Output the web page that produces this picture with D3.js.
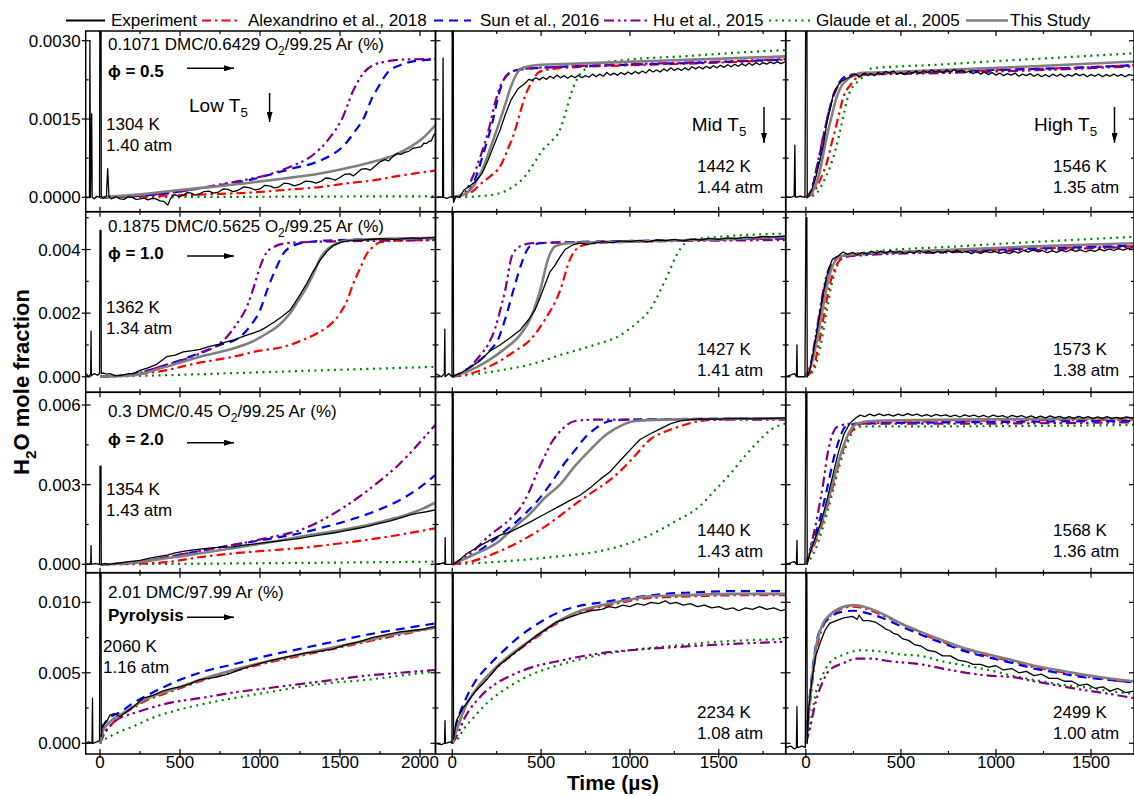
<!DOCTYPE html>
<html><head><meta charset="utf-8">
<script src="https://cdn.jsdelivr.net/npm/d3@7"></script>
<style>body{margin:0;background:#fff}svg{display:block}text{font-family:"Liberation Sans",Arial,sans-serif;fill:#000}</style>
</head><body><svg id="c" width="1134" height="796"></svg>
<script>
// ---------------- DATA ----------------
const seriesKeys = ["exp","alex","sun","hu","glaude","study"];
const seriesNames = ["Experiment","Alexandrino et al., 2018","Sun et al., 2016","Hu et al., 2015","Glaude et al., 2005","This Study"];
const mixtures = ["0.1071 DMC/0.6429 O|2|/99.25 Ar (%)","0.1875 DMC/0.5625 O|2|/99.25 Ar (%)","0.3 DMC/0.45 O|2|/99.25 Ar (%)","2.01 DMC/97.99 Ar (%)"];
const caseLabels = ["ϕ = 0.5","ϕ = 1.0","ϕ = 2.0","Pyrolysis"];
const tempLabels = [["1304 K","1442 K","1546 K"],["1362 K","1427 K","1573 K"],["1354 K","1440 K","1568 K"],["2060 K","2234 K","2499 K"]];
const presLabels = [["1.40 atm","1.44 atm","1.35 atm"],["1.34 atm","1.41 atm","1.38 atm"],["1.43 atm","1.43 atm","1.36 atm"],["1.16 atm","1.08 atm","1.00 atm"]];
const regimeLabels = ["Low T|5|","Mid T|5|","High T|5|"];
const xTicks = [0,500,1000,1500,2000];
const xMinorTicks = [250,750,1250,1750];
const yTicks = [[0,0.0015,0.003],[0,0.002,0.004],[0,0.003,0.006],[0,0.005,0.010]];
const yMinorTicks = [[0.00075,0.00225],[0.001,0.003,0.005],[0.0015,0.0045],[0.0025,0.0075]];
const yTickDecimals = [4,3,3,3];

// ---- Row 1 (phi = 0.5) ----
const exp_r1c1 = [[-89,0.00001],[-75,-0.00001],[-66,0.00001],[-63,0.0030],[-60,0.0],[-52,0.0016],[-49,0.0],[-35,-0.00003],[-20,0.00002],[-3,0.0],[0,0.0045],[6,0.0045],[8,0.00001],[20,-0.00002],[40,0.00002],[48,0.00055],[56,0.00002],[70,-0.00003],[100,0.00001],[125,-0.00003],[150,-0.00004],[175,0.00001],[200,0.0],[225,-0.00004],[250,-0.00003],[275,-0.00001],[300,-0.00005],[325,-0.00002],[350,-0.00003],[375,-0.00007],[400,-0.00008],[424,-0.00015],[440,-0.00003],[455,0.00003],[470,0.00005],[495,0.00001],[520,0.00004],[545,0.00009],[570,0.00008],[595,0.00004],[620,0.00006],[650,0.00011],[680,0.00012],[710,0.00008],[740,0.0001],[770,0.00016],[800,0.00015],[830,0.00011],[860,0.00013],[900,0.0002],[937,0.00018],[970,0.00014],[1000,0.00016],[1030,0.00023],[1060,0.00022],[1090,0.00018],[1120,0.0002],[1150,0.00027],[1180,0.00026],[1215,0.00022],[1250,0.00025],[1285,0.00031],[1320,0.0003],[1350,0.00027],[1384,0.00031],[1410,0.00037],[1440,0.00036],[1470,0.00033],[1500,0.00038],[1530,0.00044],[1560,0.00045],[1585,0.00041],[1607,0.00047],[1635,0.00054],[1660,0.00055],[1690,0.00052],[1720,0.0006],[1750,0.00068],[1780,0.00072],[1805,0.0007],[1830,0.00078],[1855,0.00084],[1880,0.00082],[1905,0.00086],[1930,0.00088],[1955,0.00094],[1980,0.00095],[2008,0.00097],[2025,0.00104],[2040,0.00103],[2055,0.00107],[2070,0.00108],[2087,0.0012],[2095,0.00122]];
const alex_r1c1 = [[0,0],[300,0.00002],[500,0.00004],[700,0.00006],[937,0.00009],[1150,0.00014],[1384,0.0002],[1550,0.00027],[1719,0.00033],[1830,0.00039],[1950,0.00045],[2095,0.00051]];
const sun_r1c1 = [[0,0],[200,0.00002],[400,0.00007],[600,0.00016],[760,0.00024],[900,0.00031],[1094,0.00046],[1200,0.00055],[1339,0.00066],[1440,0.0008],[1518,0.00097],[1590,0.00125],[1652,0.00154],[1700,0.0019],[1741,0.00212],[1800,0.0024],[1875,0.00253],[1950,0.0026],[2095,0.00264]];
const hu_r1c1 = [[0,0],[200,0.00002],[400,0.00007],[600,0.00016],[760,0.00025],[900,0.00033],[1070,0.00045],[1200,0.0006],[1317,0.00078],[1420,0.00108],[1518,0.00154],[1585,0.00206],[1652,0.0024],[1720,0.00255],[1786,0.0026],[1900,0.00264],[2095,0.00265]];
const glaude_r1c1 = [[0,0],[500,0.000005],[1000,0.00001],[1500,0.000015],[2095,0.00002]];
const study_r1c1 = [[0,0],[268,0.00006],[500,0.00014],[700,0.0002],[937,0.00028],[1150,0.00036],[1384,0.00046],[1560,0.00057],[1741,0.00071],[1850,0.00082],[1942,0.00097],[2020,0.00114],[2095,0.00138]];

const exp_r1c2 = [[-95,0.0],[-70,0.00001],[-55,0.0],[-52,0.00267],[-49,0.0],[-30,-0.00002],[-10,0.00001],[-2,0.0],[0,0.0045],[5,0.0045],[7,-0.0001],[20,0.00002],[40,0.0],[66,0.00014],[100,0.00022],[130,0.0003],[168,0.00046],[200,0.0007],[235,0.001],[269,0.00129],[300,0.0016],[330,0.00186],[370,0.00208],[409,0.00218],[430,0.00226],[450,0.00224],[470,0.00229],[490,0.00225],[510,0.0023],[530,0.00226],[550,0.00232],[570,0.00228],[589,0.00234],[610,0.00229],[630,0.00233],[650,0.00228],[670,0.00233],[690,0.00229],[710,0.00234],[730,0.00229],[750,0.00233],[770,0.0023],[790,0.00236],[810,0.00231],[830,0.00236],[850,0.00232],[870,0.00239],[890,0.00234],[910,0.00238],[930,0.00234],[950,0.00239],[970,0.00235],[990,0.0024],[1010,0.00236],[1030,0.00241],[1050,0.00237],[1070,0.00242],[1090,0.00238],[1110,0.00245],[1130,0.0024],[1150,0.00244],[1170,0.0024],[1190,0.00246],[1210,0.00242],[1230,0.00248],[1250,0.00243],[1270,0.00247],[1290,0.00243],[1310,0.00248],[1330,0.00244],[1350,0.0025],[1370,0.00246],[1390,0.0025],[1410,0.00246],[1430,0.00251],[1450,0.00247],[1470,0.00252],[1490,0.00248],[1510,0.00253],[1530,0.00249],[1550,0.00254],[1570,0.0025],[1590,0.00255],[1610,0.00251],[1630,0.00256],[1650,0.00252],[1670,0.00257],[1690,0.00253],[1710,0.00258],[1730,0.00254],[1750,0.00258],[1770,0.00255],[1790,0.00259],[1810,0.00256],[1830,0.0026],[1850,0.00256],[1877,0.0026]];
const alex_r1c2 = [[0,0],[100,0.00008],[168,0.00028],[220,0.00042],[269,0.00059],[310,0.0009],[348,0.00123],[380,0.0016],[409,0.00193],[450,0.00222],[488,0.0024],[590,0.00247],[1000,0.00253],[1500,0.00258],[1877,0.00264]];
const sun_r1c2 = [[0,0],[70,0.00005],[126,0.00033],[180,0.0009],[229,0.00148],[260,0.00195],[289,0.00225],[330,0.0024],[370,0.00244],[500,0.00248],[1000,0.00254],[1500,0.00259],[1877,0.00264]];
const hu_r1c2 = [[0,0],[60,0.00005],[107,0.00033],[160,0.0008],[209,0.00135],[240,0.0018],[269,0.00212],[300,0.0023],[330,0.0024],[430,0.00247],[600,0.0025],[1000,0.00255],[1500,0.0026],[1877,0.00265]];
const glaude_r1c2 = [[0,0],[150,0.00002],[269,0.00008],[340,0.0002],[409,0.0004],[460,0.00065],[510,0.00091],[560,0.00108],[606,0.00129],[640,0.00165],[669,0.00199],[700,0.00225],[730,0.0024],[812,0.00255],[1000,0.00264],[1300,0.0027],[1600,0.00277],[1877,0.00282]];
const study_r1c2 = [[0,0],[80,0.00008],[168,0.00052],[220,0.001],[269,0.00148],[300,0.0018],[330,0.00212],[360,0.00235],[388,0.00247],[470,0.00253],[700,0.00256],[1200,0.00262],[1877,0.0027]];

const exp_r1c3 = [[-106,0.00001],[-80,0.0],[-62,0.00002],[-58,0.001],[-55,0.0],[-30,0.00002],[-5,0.0],[0,0.0045],[5,0.0045],[7,0.0],[15,0.00003],[30,0.00014],[50,0.00035],[74,0.00071],[92,0.001],[110,0.00142],[128,0.0017],[145,0.00199],[165,0.00212],[181,0.00221],[205,0.00226],[234,0.00231],[249,0.00234],[265,0.00236],[280,0.0023],[295,0.00235],[310,0.00238],[325,0.00233],[340,0.00237],[360,0.00233],[380,0.00239],[400,0.00236],[420,0.00241],[441,0.00238],[460,0.00242],[480,0.00236],[500,0.00239],[520,0.00235],[540,0.00241],[560,0.00238],[580,0.00242],[600,0.00237],[620,0.00243],[640,0.00239],[660,0.00244],[680,0.0024],[700,0.00243],[720,0.00238],[740,0.00244],[760,0.0024],[780,0.00245],[800,0.00241],[820,0.00244],[840,0.00239],[860,0.00242],[880,0.00237],[900,0.00241],[920,0.00236],[940,0.0024],[960,0.00235],[980,0.00239],[1000,0.00234],[1020,0.00238],[1040,0.00233],[1060,0.00237],[1080,0.00234],[1100,0.00238],[1120,0.00232],[1140,0.00236],[1160,0.00233],[1180,0.00237],[1200,0.00232],[1220,0.00236],[1240,0.00231],[1260,0.00235],[1280,0.00231],[1300,0.00236],[1320,0.00232],[1340,0.00236],[1360,0.00231],[1380,0.00235],[1400,0.00232],[1420,0.00237],[1440,0.00233],[1460,0.00236],[1480,0.00231],[1500,0.00235],[1520,0.00232],[1540,0.00236],[1560,0.00231],[1580,0.00235],[1600,0.00232],[1620,0.00236],[1640,0.00232],[1660,0.00235],[1680,0.00231],[1700,0.00235],[1726,0.00233]];
const alex_r1c3 = [[0,0],[30,0.00006],[57,0.0002],[85,0.00042],[110,0.00066],[133,0.001],[154,0.00129],[176,0.00162],[198,0.00193],[234,0.00215],[270,0.0023],[320,0.00236],[600,0.00239],[1000,0.00244],[1400,0.00248],[1726,0.00253]];
const sun_r1c3 = [[0,0],[25,0.0001],[60,0.0006],[92,0.00116],[125,0.0017],[150,0.002],[180,0.00222],[220,0.00234],[300,0.00237],[600,0.0024],[1000,0.00244],[1400,0.00248],[1726,0.00253]];
const hu_r1c3 = [[0,0],[25,0.0001],[60,0.00062],[92,0.00118],[125,0.0017],[150,0.00198],[180,0.0022],[220,0.00232],[300,0.00235],[600,0.00237],[1000,0.00241],[1400,0.00246],[1726,0.00251]];
const glaude_r1c3 = [[0,0],[30,0.00002],[57,0.00008],[90,0.00028],[128,0.00059],[155,0.0009],[181,0.00129],[200,0.0016],[216,0.00186],[240,0.00208],[261,0.00218],[287,0.00226],[346,0.00247],[450,0.0025],[638,0.00253],[1000,0.00261],[1400,0.00269],[1726,0.00276]];
const study_r1c3 = [[0,0],[30,0.00008],[70,0.00045],[110,0.00116],[140,0.00162],[163,0.00193],[190,0.00215],[216,0.00225],[250,0.00233],[287,0.00238],[441,0.0024],[800,0.00245],[1200,0.00251],[1726,0.0026]];

// ---- Row 2 (phi = 1.0) ----
const exp_r2c1 = [[-89,0.0001],[-70,0.0],[-58,0.0001],[-56,0.00143],[-54,0.00003],[-35,0.0001],[-15,0.00005],[-3,0.0001],[0,0.0046],[6,0.0046],[8,0.0001],[20,0.00012],[40,0.00008],[62,0.0001],[100,0.00003],[140,0.00005],[180,0.0001],[208,0.0001],[250,0.0002],[300,0.00028],[350,0.00038],[417,0.00063],[470,0.00068],[520,0.00078],[580,0.00082],[625,0.00086],[680,0.00095],[740,0.00102],[790,0.0011],[833,0.00115],[900,0.00128],[960,0.00138],[1000,0.00145],[1042,0.00157],[1090,0.00172],[1140,0.0019],[1187,0.00209],[1240,0.0025],[1292,0.00293],[1330,0.0033],[1375,0.00366],[1420,0.00395],[1458,0.00413],[1510,0.00423],[1562,0.00428],[1650,0.0043],[1750,0.00434],[1850,0.00432],[1950,0.00437],[2000,0.00435],[2095,0.00438]];
const alex_r2c1 = [[0,0],[200,0.00006],[417,0.00021],[600,0.00042],[833,0.00063],[1000,0.00082],[1146,0.00094],[1250,0.00112],[1354,0.00136],[1430,0.0016],[1500,0.00199],[1545,0.0024],[1583,0.00293],[1625,0.0034],[1667,0.00386],[1710,0.0041],[1750,0.00423],[1850,0.00428],[2095,0.0043]];
const sun_r2c1 = [[0,0],[200,0.00008],[400,0.00035],[625,0.00075],[750,0.001],[875,0.00125],[940,0.0016],[1000,0.00209],[1050,0.0028],[1104,0.00345],[1150,0.0039],[1187,0.00407],[1292,0.00423],[1500,0.0043],[2095,0.00435]];
const hu_r2c1 = [[0,0],[200,0.00008],[400,0.00035],[625,0.00073],[720,0.00095],[792,0.00125],[860,0.0017],[917,0.00219],[960,0.0028],[1000,0.00345],[1040,0.0039],[1083,0.00407],[1167,0.0042],[1400,0.00425],[1800,0.00428],[2095,0.0043]];
const glaude_r2c1 = [[0,0],[500,0.00006],[1000,0.00014],[1500,0.00022],[2095,0.00031]];
const study_r2c1 = [[0,0],[100,0.00002],[208,0.00005],[400,0.0003],[625,0.00063],[833,0.00089],[950,0.0011],[1042,0.00136],[1120,0.00163],[1187,0.00199],[1240,0.0024],[1292,0.00282],[1340,0.0033],[1375,0.00371],[1420,0.004],[1458,0.00413],[1562,0.0043],[1800,0.00434],[2095,0.00437]];

const exp_r2c2 = [[-95,0.0001],[-60,0.0],[-45,0.0001],[-42,0.0015],[-40,0.0],[-20,0.0001],[-2,0.0],[0,0.0055],[5,0.0055],[7,0.0],[20,0.00005],[43,0.0001],[100,0.0003],[156,0.0005],[210,0.0008],[269,0.001],[320,0.0012],[381,0.00146],[430,0.0018],[466,0.0021],[495,0.0025],[522,0.0029],[550,0.0033],[578,0.0035],[610,0.0038],[635,0.004],[680,0.00415],[719,0.0042],[760,0.00416],[800,0.0042],[850,0.00425],[900,0.00422],[950,0.00427],[1000,0.00425],[1050,0.00429],[1100,0.00424],[1150,0.0043],[1200,0.00428],[1250,0.00432],[1300,0.00427],[1350,0.00433],[1400,0.0043],[1450,0.00435],[1500,0.00432],[1550,0.00437],[1600,0.00434],[1650,0.00439],[1700,0.00437],[1750,0.00441],[1800,0.0044],[1877,0.00442]];
const alex_r2c2 = [[0,0],[100,0.0001],[269,0.0005],[350,0.0008],[437,0.00115],[522,0.0018],[606,0.0027],[663,0.0037],[719,0.0041],[800,0.0042],[1200,0.00427],[1877,0.00435]];
const sun_r2c2 = [[0,0],[100,0.0003],[212,0.00083],[260,0.0012],[297,0.0018],[353,0.0029],[392,0.0036],[437,0.0041],[500,0.0042],[1000,0.00427],[1877,0.00435]];
const hu_r2c2 = [[0,0],[80,0.0002],[156,0.00067],[200,0.001],[240,0.0015],[270,0.0021],[297,0.0027],[336,0.0038],[381,0.0041],[450,0.0042],[1000,0.00425],[1877,0.0043]];
const glaude_r2c2 = [[0,0],[150,0.0001],[269,0.0002],[450,0.0004],[606,0.00068],[800,0.001],[944,0.0013],[1040,0.0017],[1112,0.0021],[1196,0.003],[1281,0.004],[1337,0.0043],[1500,0.0044],[1877,0.0045]];
const study_r2c2 = [[0,0],[100,0.0002],[200,0.0005],[300,0.0009],[380,0.0013],[437,0.0018],[494,0.0027],[539,0.0037],[578,0.0041],[650,0.0042],[1000,0.00425],[1500,0.00432],[1877,0.0044]];

const exp_r2c3 = [[-106,0.0],[-60,0.0001],[-50,0.0],[-47,0.001],[-45,0.0],[-5,0.0],[0,0.005],[5,0.005],[7,0.0],[20,0.0002],[40,0.0008],[60,0.0015],[80,0.0022],[100,0.0029],[120,0.0034],[140,0.0037],[170,0.0038],[195,0.00392],[220,0.00385],[245,0.00391],[270,0.00384],[295,0.0039],[320,0.00386],[345,0.00394],[370,0.00388],[395,0.00395],[420,0.00389],[445,0.00396],[470,0.0039],[495,0.00394],[520,0.00387],[545,0.00393],[570,0.00389],[595,0.00397],[620,0.0039],[645,0.00395],[670,0.00388],[695,0.00394],[720,0.00389],[745,0.00396],[770,0.00391],[795,0.00398],[820,0.0039],[845,0.00395],[870,0.00387],[895,0.00393],[920,0.00388],[945,0.00396],[970,0.0039],[995,0.00394],[1020,0.00388],[1045,0.00392],[1070,0.00387],[1095,0.00394],[1120,0.00389],[1145,0.00397],[1170,0.00392],[1195,0.00399],[1220,0.00393],[1245,0.00397],[1270,0.0039],[1295,0.00396],[1320,0.00391],[1345,0.00398],[1370,0.00393],[1395,0.004],[1420,0.00394],[1445,0.00399],[1470,0.00393],[1495,0.00398],[1520,0.00394],[1545,0.00401],[1570,0.00396],[1595,0.00402],[1620,0.00397],[1645,0.00403],[1670,0.00398],[1695,0.00404],[1726,0.004]];
const alex_r2c3 = [[0,0],[40,0.0003],[70,0.0011],[100,0.0021],[130,0.003],[160,0.0035],[200,0.00375],[300,0.00385],[1000,0.004],[1726,0.0041]];
const sun_r2c3 = [[0,0],[25,0.0004],[55,0.0013],[85,0.0024],[115,0.0032],[145,0.0036],[180,0.00378],[300,0.00385],[1000,0.004],[1726,0.00412]];
const hu_r2c3 = [[0,0],[25,0.0004],[55,0.0014],[85,0.0025],[115,0.0033],[145,0.0036],[180,0.00375],[300,0.00382],[1000,0.00395],[1726,0.00408]];
const glaude_r2c3 = [[0,0],[40,0.0002],[75,0.0009],[105,0.0019],[135,0.0029],[165,0.0035],[200,0.0038],[300,0.0039],[800,0.0041],[1726,0.0044]];
const study_r2c3 = [[0,0],[30,0.0004],[60,0.0012],[90,0.0022],[120,0.0031],[150,0.0036],[180,0.00378],[250,0.00385],[600,0.00395],[1200,0.0041],[1726,0.0042]];

// ---- Row 3 (phi = 2.0) ----
const exp_r3c1 = [[-89,0.00003],[-70,0.0],[-58,0.00005],[-56,0.0007],[-54,0.0],[-30,0.00003],[-3,0.0],[0,0.0037],[6,0.0037],[8,0.0],[30,0.00003],[62,0.0],[120,0.00005],[180,0.0001],[250,0.00015],[312,0.00023],[370,0.0003],[420,0.00035],[470,0.00043],[530,0.0005],[583,0.00054],[640,0.00058],[700,0.00062],[760,0.00065],[833,0.00066],[900,0.00072],[970,0.00077],[1040,0.00083],[1110,0.00087],[1180,0.00092],[1250,0.00098],[1320,0.00105],[1390,0.00112],[1460,0.00118],[1530,0.00126],[1600,0.00134],[1667,0.00142],[1740,0.00153],[1810,0.00163],[1880,0.00175],[1940,0.00186],[1979,0.00192],[2040,0.00198],[2095,0.00205]];
const alex_r3c1 = [[0,0],[200,0.00002],[417,0.00008],[600,0.00025],[833,0.00041],[1050,0.00052],[1250,0.00061],[1460,0.00076],[1667,0.00092],[1880,0.00112],[2095,0.00136]];
const sun_r3c1 = [[0,0],[200,0.00005],[400,0.00025],[600,0.00048],[833,0.00073],[1050,0.00095],[1250,0.00117],[1400,0.0014],[1562,0.00167],[1720,0.002],[1875,0.00242],[2000,0.0029],[2095,0.00336]];
const hu_r3c1 = [[0,0],[200,0.00005],[400,0.00025],[600,0.00048],[833,0.00073],[1050,0.001],[1250,0.00129],[1400,0.0017],[1562,0.0023],[1720,0.003],[1875,0.0038],[2000,0.0046],[2095,0.00525]];
const glaude_r3c1 = [[0,0],[1000,0.00004],[2095,0.0001]];
const study_r3c1 = [[0,0],[150,0.00003],[312,0.00014],[500,0.0003],[700,0.00048],[833,0.00061],[1050,0.00082],[1250,0.00104],[1460,0.00124],[1667,0.00147],[1850,0.00175],[2000,0.00205],[2095,0.00232]];

const exp_r3c2 = [[-95,0.0],[-50,0.00005],[-42,0.0],[-40,0.001],[-38,0.0],[-3,0.0],[0,0.007],[5,0.007],[7,0.0],[30,0.0001],[80,0.0004],[156,0.0007],[210,0.0009],[269,0.0011],[320,0.0012],[381,0.0014],[440,0.0016],[494,0.0018],[550,0.002],[606,0.0022],[660,0.0024],[719,0.0026],[780,0.0029],[832,0.0032],[890,0.0035],[944,0.0039],[1000,0.0043],[1057,0.0047],[1110,0.0049],[1170,0.0051],[1230,0.0053],[1283,0.0054],[1340,0.00545],[1400,0.00548],[1500,0.00547],[1600,0.0055],[1700,0.00548],[1800,0.0055],[1877,0.00552]];
const alex_r3c2 = [[0,0],[100,0.0001],[269,0.0005],[494,0.0013],[719,0.0024],[944,0.0035],[1030,0.0041],[1113,0.0047],[1200,0.005],[1283,0.0052],[1395,0.0054],[1600,0.00548],[1877,0.0055]];
const sun_r3c2 = [[0,0],[100,0.0003],[269,0.0011],[409,0.0019],[480,0.0024],[550,0.003],[620,0.0037],[691,0.0043],[750,0.0048],[803,0.0051],[888,0.0054],[1000,0.00545],[1877,0.0055]];
const hu_r3c2 = [[0,0],[100,0.0004],[212,0.0011],[325,0.0017],[380,0.0021],[437,0.0028],[480,0.0035],[522,0.0041],[560,0.0046],[606,0.005],[691,0.0054],[800,0.00545],[1877,0.00545]];
const glaude_r3c2 = [[0,0],[269,0.0001],[600,0.0003],[832,0.0005],[1000,0.0008],[1113,0.0011],[1250,0.0016],[1395,0.0022],[1480,0.0028],[1564,0.0034],[1650,0.0041],[1733,0.0047],[1800,0.0051],[1877,0.0053]];
const study_r3c2 = [[0,0],[100,0.0003],[269,0.0009],[350,0.0014],[437,0.0019],[520,0.0025],[606,0.003],[690,0.0037],[775,0.0043],[850,0.0048],[916,0.0051],[1029,0.0054],[1200,0.00545],[1877,0.0055]];

const exp_r3c3 = [[-106,0.0],[-60,0.0001],[-50,0.0],[-47,0.0009],[-45,0.0],[-5,0.0],[0,0.007],[5,0.007],[7,0.0],[20,0.0004],[50,0.001],[80,0.0016],[110,0.0024],[140,0.0033],[170,0.0042],[200,0.0049],[230,0.0053],[260,0.0055],[285,0.00562],[310,0.00556],[335,0.00566],[360,0.00559],[385,0.00567],[410,0.0056],[435,0.00565],[460,0.00558],[485,0.00566],[510,0.0056],[535,0.00568],[560,0.00561],[585,0.00566],[610,0.00558],[635,0.00564],[660,0.00557],[685,0.00565],[710,0.00559],[735,0.00563],[760,0.00556],[785,0.00562],[810,0.00555],[835,0.00563],[860,0.00557],[885,0.00562],[910,0.00555],[935,0.00561],[960,0.00554],[985,0.00562],[1010,0.00556],[1035,0.0056],[1060,0.00553],[1085,0.00561],[1110,0.00555],[1135,0.0056],[1160,0.00553],[1185,0.00559],[1210,0.00552],[1235,0.00558],[1260,0.00552],[1285,0.00559],[1310,0.00553],[1335,0.00557],[1360,0.0055],[1385,0.00556],[1410,0.0055],[1435,0.00557],[1460,0.00551],[1485,0.00556],[1510,0.00549],[1535,0.00555],[1560,0.0055],[1585,0.00556],[1610,0.00549],[1635,0.00554],[1660,0.00549],[1685,0.00555],[1726,0.00551]];
const alex_r3c3 = [[0,0],[30,0.0005],[80,0.0014],[130,0.0026],[170,0.0037],[210,0.0046],[250,0.0051],[300,0.0053],[800,0.0054],[1726,0.00545]];
const sun_r3c3 = [[0,0],[30,0.0007],[70,0.0016],[110,0.0028],[150,0.0041],[180,0.0048],[210,0.0052],[280,0.0053],[800,0.00535],[1726,0.0054]];
const hu_r3c3 = [[0,0],[30,0.0008],[60,0.0018],[90,0.003],[115,0.0042],[140,0.0049],[170,0.0052],[250,0.0053],[800,0.0053],[1726,0.00535]];
const glaude_r3c3 = [[0,0],[40,0.0004],[90,0.0014],[140,0.0027],[180,0.0038],[220,0.0046],[260,0.0051],[300,0.0052],[800,0.0052],[1726,0.00525]];
const study_r3c3 = [[0,0],[30,0.0006],[70,0.0013],[110,0.0022],[150,0.0033],[190,0.0043],[230,0.005],[270,0.0053],[350,0.0054],[800,0.00545],[1726,0.0055]];

// ---- Row 4 (pyrolysis) ----
const exp_r4c1 = [[-89,0.0],[-70,0.0001],[-50,0.0],[-47,0.0032],[-45,0.0],[-20,0.0001],[-3,0.0002],[0,0.013],[6,0.013],[8,0.0005],[15,0.0013],[30,0.0014],[45,0.0016],[62,0.002],[90,0.0021],[125,0.0019],[167,0.00224],[210,0.0026],[271,0.0032],[330,0.0034],[390,0.0037],[450,0.0039],[500,0.004],[560,0.0042],[620,0.0045],[680,0.0046],[729,0.0047],[800,0.0049],[870,0.0052],[950,0.0055],[1042,0.0058],[1120,0.006],[1200,0.0062],[1280,0.0064],[1360,0.0065],[1458,0.0067],[1540,0.007],[1620,0.0072],[1700,0.0075],[1790,0.0077],[1875,0.0079],[1950,0.008],[2020,0.0081],[2095,0.0083]];
const alex_r4c1 = [[0,0],[20,0.0005],[62,0.0012],[125,0.0019],[208,0.0025],[300,0.0031],[400,0.0035],[500,0.0039],[650,0.0045],[833,0.0051],[1042,0.0057],[1250,0.0062],[1458,0.0067],[1667,0.0072],[1875,0.0077],[2095,0.0082]];
const sun_r4c1 = [[0,0],[20,0.0012],[60,0.0018],[125,0.0022],[200,0.0028],[312,0.0035],[400,0.004],[500,0.0045],[650,0.0051],[833,0.0056],[1042,0.0062],[1250,0.0067],[1458,0.0072],[1667,0.0077],[1875,0.0081],[2095,0.0085]];
const hu_r4c1 = [[0,0],[20,0.0006],[60,0.0012],[125,0.0018],[200,0.0021],[312,0.0025],[450,0.0029],[625,0.0032],[833,0.0036],[1042,0.0039],[1250,0.0042],[1458,0.0045],[1667,0.0048],[1875,0.005],[2095,0.0052]];
const glaude_r4c1 = [[0,0],[21,0.0002],[100,0.0007],[208,0.0012],[350,0.0019],[500,0.0024],[650,0.0028],[833,0.0032],[1042,0.0036],[1250,0.004],[1458,0.0043],[1667,0.0045],[1875,0.0048],[2095,0.0051]];
const study_r4c1 = [[0,0],[20,0.0009],[60,0.0015],[125,0.002],[208,0.0026],[300,0.0032],[400,0.0036],[500,0.004],[650,0.0046],[833,0.0052],[1042,0.0058],[1250,0.0063],[1458,0.0068],[1667,0.0073],[1875,0.0078],[2095,0.0082]];

const exp_r4c2 = [[-95,0.0],[-60,-0.0001],[-44,0.0],[-41,0.0016],[-39,0.0],[-10,0.0001],[-2,0.0],[0,0.013],[5,0.013],[7,0.0003],[23,0.0016],[60,0.0025],[125,0.0036],[200,0.0046],[260,0.0055],[330,0.0062],[400,0.0069],[470,0.0076],[530,0.0081],[587,0.0086],[650,0.0089],[720,0.0092],[780,0.0094],[843,0.0095],[880,0.0097],[920,0.0096],[960,0.0098],[1000,0.0097],[1040,0.0099],[1080,0.0098],[1120,0.01],[1160,0.0099],[1200,0.0101],[1228,0.0099],[1260,0.01],[1300,0.0098],[1340,0.0099],[1380,0.0097],[1420,0.0098],[1460,0.0096],[1500,0.0097],[1540,0.0095],[1580,0.0096],[1613,0.0094],[1650,0.0096],[1690,0.0095],[1730,0.0097],[1770,0.0095],[1810,0.0096],[1850,0.0094],[1877,0.0095]];
const alex_r4c2 = [[0,0],[20,0.0007],[74,0.0026],[150,0.004],[230,0.0051],[330,0.0062],[450,0.0073],[587,0.0085],[700,0.0092],[843,0.0097],[1000,0.0101],[1100,0.0103],[1300,0.0104],[1600,0.0105],[1877,0.0105]];
const sun_r4c2 = [[0,0],[20,0.0012],[74,0.0031],[130,0.0044],[203,0.0055],[300,0.0067],[380,0.0076],[459,0.0083],[600,0.0093],[700,0.0097],[843,0.01],[1000,0.0103],[1200,0.0106],[1356,0.0107],[1600,0.0108],[1877,0.0108]];
const hu_r4c2 = [[0,0],[20,0.0004],[74,0.0019],[150,0.0032],[230,0.0041],[330,0.0048],[450,0.0054],[587,0.0058],[700,0.0061],[843,0.0064],[1000,0.0066],[1228,0.0068],[1500,0.007],[1877,0.0072]];
const glaude_r4c2 = [[0,0],[23,0.0002],[70,0.0011],[125,0.0019],[200,0.0029],[330,0.0041],[450,0.0049],[587,0.0055],[700,0.0059],[843,0.0063],[1000,0.0066],[1228,0.0069],[1500,0.0072],[1877,0.0074]];
const study_r4c2 = [[0,0],[20,0.0008],[74,0.0026],[150,0.0041],[230,0.0052],[330,0.0063],[450,0.0074],[587,0.0086],[700,0.0093],[843,0.0098],[1000,0.0102],[1100,0.0104],[1300,0.0105],[1600,0.0106],[1877,0.0106]];

const exp_r4c3 = [[-106,-0.0003],[-80,-0.0002],[-60,-0.0004],[-50,-0.0003],[-47,0.0026],[-45,-0.0003],[-20,-0.0002],[-3,-0.0003],[0,0.013],[5,0.013],[7,0.0],[15,0.0025],[30,0.0043],[50,0.0061],[77,0.0072],[100,0.008],[125,0.0085],[160,0.0087],[200,0.0089],[245,0.009],[270,0.0088],[280,0.0091],[300,0.0087],[330,0.0087],[365,0.0086],[400,0.0083],[420,0.0081],[440,0.008],[460,0.0078],[485,0.0077],[510,0.0074],[540,0.0073],[570,0.007],[605,0.0069],[640,0.0066],[680,0.0065],[720,0.0062],[760,0.0062],[800,0.0059],[844,0.0058],[880,0.0056],[920,0.0056],[960,0.0054],[1000,0.0055],[1040,0.0052],[1084,0.0053],[1120,0.005],[1160,0.0051],[1200,0.0048],[1240,0.0049],[1280,0.0046],[1324,0.0046],[1360,0.0044],[1400,0.0044],[1440,0.0041],[1480,0.0042],[1520,0.0039],[1563,0.004],[1600,0.0037],[1640,0.0039],[1680,0.0036],[1726,0.0037]];
const alex_r4c3 = [[0,0],[20,0.0026],[53,0.0064],[90,0.0083],[125,0.009],[180,0.0095],[250,0.0097],[300,0.0096],[400,0.0091],[500,0.0085],[605,0.0078],[720,0.0072],[844,0.0066],[960,0.0062],[1084,0.0058],[1200,0.0054],[1324,0.0051],[1450,0.0048],[1600,0.0045],[1726,0.0043]];
const sun_r4c3 = [[0,0],[20,0.0033],[53,0.007],[90,0.0084],[125,0.0089],[180,0.0093],[250,0.0094],[300,0.0093],[400,0.0089],[500,0.0083],[605,0.0077],[720,0.0071],[844,0.0065],[960,0.0061],[1084,0.0057],[1200,0.0053],[1324,0.005],[1450,0.0047],[1600,0.0045],[1726,0.0043]];
const hu_r4c3 = [[0,0],[20,0.001],[53,0.003],[90,0.0044],[125,0.0052],[200,0.0057],[260,0.006],[341,0.006],[450,0.0058],[605,0.0056],[720,0.0053],[844,0.005],[960,0.0048],[1084,0.0047],[1200,0.0044],[1324,0.0041],[1450,0.0038],[1600,0.0035],[1726,0.0032]];
const glaude_r4c3 = [[0,0],[20,0.0012],[53,0.0036],[90,0.0049],[125,0.0057],[200,0.0063],[293,0.0066],[400,0.0065],[500,0.0063],[605,0.0062],[720,0.0058],[844,0.0055],[960,0.0052],[1084,0.0048],[1200,0.0045],[1324,0.0042],[1450,0.004],[1600,0.0037],[1726,0.0035]];
const study_r4c3 = [[0,0],[20,0.003],[53,0.0068],[90,0.0085],[125,0.0091],[180,0.0096],[250,0.0098],[300,0.0097],[400,0.0092],[500,0.0085],[605,0.0079],[720,0.0073],[844,0.0067],[960,0.0063],[1084,0.0059],[1200,0.0055],[1324,0.0052],[1450,0.0049],[1600,0.0046],[1726,0.0044]];

const panelData = [
  [{exp:exp_r1c1,alex:alex_r1c1,sun:sun_r1c1,hu:hu_r1c1,glaude:glaude_r1c1,study:study_r1c1},
   {exp:exp_r1c2,alex:alex_r1c2,sun:sun_r1c2,hu:hu_r1c2,glaude:glaude_r1c2,study:study_r1c2},
   {exp:exp_r1c3,alex:alex_r1c3,sun:sun_r1c3,hu:hu_r1c3,glaude:glaude_r1c3,study:study_r1c3}],
  [{exp:exp_r2c1,alex:alex_r2c1,sun:sun_r2c1,hu:hu_r2c1,glaude:glaude_r2c1,study:study_r2c1},
   {exp:exp_r2c2,alex:alex_r2c2,sun:sun_r2c2,hu:hu_r2c2,glaude:glaude_r2c2,study:study_r2c2},
   {exp:exp_r2c3,alex:alex_r2c3,sun:sun_r2c3,hu:hu_r2c3,glaude:glaude_r2c3,study:study_r2c3}],
  [{exp:exp_r3c1,alex:alex_r3c1,sun:sun_r3c1,hu:hu_r3c1,glaude:glaude_r3c1,study:study_r3c1},
   {exp:exp_r3c2,alex:alex_r3c2,sun:sun_r3c2,hu:hu_r3c2,glaude:glaude_r3c2,study:study_r3c2},
   {exp:exp_r3c3,alex:alex_r3c3,sun:sun_r3c3,hu:hu_r3c3,glaude:glaude_r3c3,study:study_r3c3}],
  [{exp:exp_r4c1,alex:alex_r4c1,sun:sun_r4c1,hu:hu_r4c1,glaude:glaude_r4c1,study:study_r4c1},
   {exp:exp_r4c2,alex:alex_r4c2,sun:sun_r4c2,hu:hu_r4c2,glaude:glaude_r4c2,study:study_r4c2},
   {exp:exp_r4c3,alex:alex_r4c3,sun:sun_r4c3,hu:hu_r4c3,glaude:glaude_r4c3,study:study_r4c3}]
];
// axis ranges (data units)
const xDomains = [[-89.4,2096.9],[-94.6,1877],[-106.3,1726.3]];
const yDomains = [[-0.000276,0.003186],[-0.000489,0.00519],[-0.000316,0.00648],[-0.00076,0.0121]];

// ---------------- LAYOUT / STYLE ----------------
const colEdges = [[85.7,435.5],[435.5,785.7],[785.7,1134]];
const rowEdges = [[31,211.7],[211.7,392.3],[392.3,572.7],[572.7,754]];
const styles = {
  glaude:{color:"#008000",w:2.2,dash:"2,4.5"},
  alex:{color:"#ff0000",w:2.2,dash:"9,4,2.5,4"},
  sun:{color:"#0000ff",w:2.2,dash:"9,6"},
  hu:{color:"#800080",w:2.2,dash:"10,4,2.5,3.5,2.5,4"},
  study:{color:"#808080",w:2.6,dash:null},
  exp:{color:"#000000",w:1.3,dash:null}
};
const drawOrder = ["glaude","alex","sun","hu","study","exp"];

const svg = d3.select("#c");
const defs = svg.append("defs");
defs.append("marker").attr("id","ah").attr("viewBox","0 0 10 6").attr("refX",10).attr("refY",3)
  .attr("markerWidth",10).attr("markerHeight",6).attr("markerUnits","userSpaceOnUse").attr("orient","auto")
  .append("path").attr("d","M0,0 L10,3 L0,6 Z").attr("fill","#000");

function richText(sel, str, size){
  const parts = str.split("|");
  parts.forEach((p,i)=>{
    if(!p) return;
    if(i%2===1){
      sel.append("tspan").attr("dy", size*0.3).attr("font-size", size*0.7).text(p);
    } else {
      sel.append("tspan").attr("dy", i>0 ? -size*0.3 : 0).text(p);
    }
  });
}

for(let r=0;r<4;r++){
  for(let c=0;c<3;c++){
    const [x0,x1] = colEdges[c], [y0,y1] = rowEdges[r];
    const x = d3.scaleLinear().domain(xDomains[c]).range([x0,x1]);
    const y = d3.scaleLinear().domain(yDomains[r]).range([y1,y0]);
    const g = svg.append("g");
    const cid = `clip${r}${c}`;
    defs.append("clipPath").attr("id",cid).append("rect").attr("x",x0).attr("y",y0).attr("width",x1-x0).attr("height",y1-y0);
    const pg = g.append("g").attr("clip-path",`url(#${cid})`);
    const data = panelData[r][c];
    drawOrder.forEach(k=>{
      const st = styles[k];
      const line = d3.line().x(d=>x(d[0])).y(d=>y(d[1])).curve(k==="exp"?d3.curveLinear:d3.curveMonotoneX);
      const p = pg.append("path").datum(data[k]).attr("d",line).attr("fill","none")
        .attr("stroke",st.color).attr("stroke-width",st.w).attr("stroke-linejoin","round");
      if(st.dash) p.attr("stroke-dasharray",st.dash);
    });
    const tk = g.append("g").attr("stroke","#000").attr("stroke-width",1.2);
    const xt = xTicks.filter(v=>v>=xDomains[c][0]&&v<=xDomains[c][1]);
    const xm = xMinorTicks.filter(v=>v>=xDomains[c][0]&&v<=xDomains[c][1]);
    xt.forEach(v=>{ const px=x(v);
      tk.append("line").attr("x1",px).attr("x2",px).attr("y1",y1).attr("y2",y1-5);
      tk.append("line").attr("x1",px).attr("x2",px).attr("y1",y0).attr("y2",y0+5);
      if(r===3) tk.append("line").attr("x1",px).attr("x2",px).attr("y1",y1).attr("y2",y1+4);
    });
    xm.forEach(v=>{ const px=x(v);
      tk.append("line").attr("x1",px).attr("x2",px).attr("y1",y1).attr("y2",y1-3);
      tk.append("line").attr("x1",px).attr("x2",px).attr("y1",y0).attr("y2",y0+3);
    });
    yTicks[r].forEach(v=>{ const py=y(v);
      tk.append("line").attr("x1",x0).attr("x2",x0+5).attr("y1",py).attr("y2",py);
      tk.append("line").attr("x1",x1).attr("x2",x1-5).attr("y1",py).attr("y2",py);
      if(c===0) tk.append("line").attr("x1",x0).attr("x2",x0-4).attr("y1",py).attr("y2",py);
    });
    yMinorTicks[r].filter(v=>v<=yDomains[r][1]).forEach(v=>{ const py=y(v);
      tk.append("line").attr("x1",x0).attr("x2",x0+3).attr("y1",py).attr("y2",py);
      tk.append("line").attr("x1",x1).attr("x2",x1-3).attr("y1",py).attr("y2",py);
    });
    if(c===0){
      yTicks[r].forEach(v=>{
        g.append("text").attr("x",x0-5).attr("y",y(v)+6).attr("text-anchor","end")
          .attr("font-size",17).text(v.toFixed(yTickDecimals[r]));
      });
    }
    if(r===3){
      xt.forEach(v=>{
        g.append("text").attr("x",x(v)).attr("y",768).attr("text-anchor","middle")
          .attr("font-size",17).text(v);
      });
    }
    g.append("rect").attr("x",x0).attr("y",y0).attr("width",x1-x0).attr("height",y1-y0)
      .attr("fill","none").attr("stroke","#000").attr("stroke-width",1.5);
  }
}

// ---------------- ANNOTATIONS ----------------
const ann = svg.append("g").attr("font-size",17);
const mixY = [50, 231.7, 416.7, 598];
const caseY = [76.7, 259, 445, 621];
const arrowY = [68.3, 256, 442.7, 617.3];
mixtures.forEach((m,i)=>{
  const t = ann.append("text").attr("x",108).attr("y",mixY[i]);
  richText(t, m, 17);
  ann.append("text").attr("x",108).attr("y",caseY[i]).attr("font-weight","bold").attr("font-size",17).text(caseLabels[i]);
  ann.append("line").attr("x1",187).attr("x2",234).attr("y1",arrowY[i]).attr("y2",arrowY[i])
    .attr("stroke","#000").attr("stroke-width",1.5).attr("marker-end","url(#ah)");
});
const tempX = [106, 697, 1053];
const tempY = [[130,312.7,495,652],[172,355,536,718],[172,355,536,718]];
const presDY = 21;
for(let r=0;r<4;r++) for(let c=0;c<3;c++){
  const tx = (c===0 && r===3) ? 103 : tempX[c];
  ann.append("text").attr("x",tx).attr("y",tempY[c][r]).text(tempLabels[r][c]);
  ann.append("text").attr("x",tx).attr("y",tempY[c][r]+presDY).text(presLabels[r][c]);
}
const regX = [189, 691.8, 1034];
const regY = [111.7, 130.7, 130.7];
const regArrowX = [269.6, 764, 1114.5];
const regArrowY = [[93,122],[107,143],[107,143]];
regimeLabels.forEach((s,i)=>{
  const t = ann.append("text").attr("x",regX[i]).attr("y",regY[i]).attr("font-size",19);
  richText(t, s, 19);
  ann.append("line").attr("x1",regArrowX[i]).attr("x2",regArrowX[i]).attr("y1",regArrowY[i][0]).attr("y2",regArrowY[i][1])
    .attr("stroke","#000").attr("stroke-width",1.5).attr("marker-end","url(#ah)");
});

const yt = svg.append("text").attr("transform","translate(29,382) rotate(-90)").attr("text-anchor","middle")
  .attr("font-size",22).attr("font-weight","bold");
richText(yt, "H|2|O mole fraction", 22);
svg.append("text").attr("x",613).attr("y",790).attr("text-anchor","middle").attr("font-size",21)
  .attr("font-weight","bold").text("Time (µs)");

// ---------------- LEGEND ----------------
const legSampleX = [[66,105],[202,237],[434,471],[604,650],[769,812],[966,1008]];
const legTextX = [111,248,480,653,816,1010];
const leg = svg.append("g");
seriesKeys.forEach((k,i)=>{
  const st = styles[k];
  const l = leg.append("line").attr("x1",legSampleX[i][0]).attr("x2",legSampleX[i][1]).attr("y1",20.5).attr("y2",20.5)
    .attr("stroke",st.color).attr("stroke-width",k==="exp"?2:st.w);
  if(st.dash) l.attr("stroke-dasharray",st.dash);
  leg.append("text").attr("x",legTextX[i]).attr("y",26).attr("font-size",17).text(seriesNames[i]);
});
</script></body></html>
